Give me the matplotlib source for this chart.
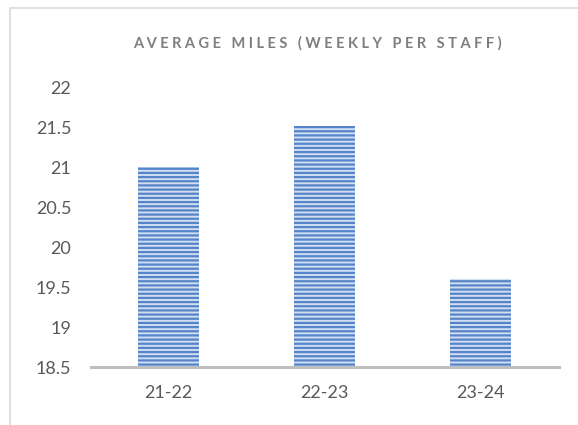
import matplotlib
matplotlib.use("Agg")
import matplotlib.pyplot as plt
from matplotlib.patches import Rectangle

# data
temporadas = ["21-22", "22-23", "23-24"]
millas = [21.0, 21.52, 19.6]
ticks_y = [18.5, 19, 19.5, 20, 20.5, 21, 21.5, 22]
etiquetas_y = ["18.5", "19", "19.5", "20", "20.5", "21", "21.5", "22"]

plt.rcParams['font.family'] = ['Lato', 'DejaVu Sans']
plt.rcParams['hatch.linewidth'] = 1.6

fig = plt.figure(figsize=(5.78, 4.25), dpi=100)
ax = fig.add_axes([0.157, 0.136, 0.81, 0.659])

x = range(len(temporadas))
barras = ax.bar(x, millas, width=0.39, bottom=0, color='#D2DFF3',
                edgecolor='#5584C8', linewidth=0, hatch='----')

ax.set_ylim(18.5, 22)
ax.set_xlim(-0.5, 2.5)
ax.set_yticks(ticks_y)
ax.set_yticklabels(etiquetas_y)
ax.set_xticks(list(x))
ax.set_xticklabels(temporadas)
ax.tick_params(axis='both', length=0, labelsize=13, labelcolor='#595959')
ax.tick_params(axis='y', pad=14)
ax.tick_params(axis='x', pad=13)

for s in ['top', 'right', 'left']:
    ax.spines[s].set_visible(False)
ax.spines['bottom'].set_color('#BFBFBF')
ax.spines['bottom'].set_linewidth(2.2)
ax.spines['bottom'].set_zorder(5)

titulo = "AVERAGE MILES (WEEKLY PER STAFF)"
fig.text(0.549, 0.897, " ".join(titulo), ha='center', va='center',
         fontsize=10.5, color='#7F7F7F', fontweight='bold')

# marco del grafico
fig.patches.append(Rectangle((10/578, -0.1), 1.2, 1 - 8/425 + 0.1,
                             transform=fig.transFigure, fill=False,
                             edgecolor='#D9D9D9', linewidth=1.2))

fig.savefig("out.png", dpi=100)
